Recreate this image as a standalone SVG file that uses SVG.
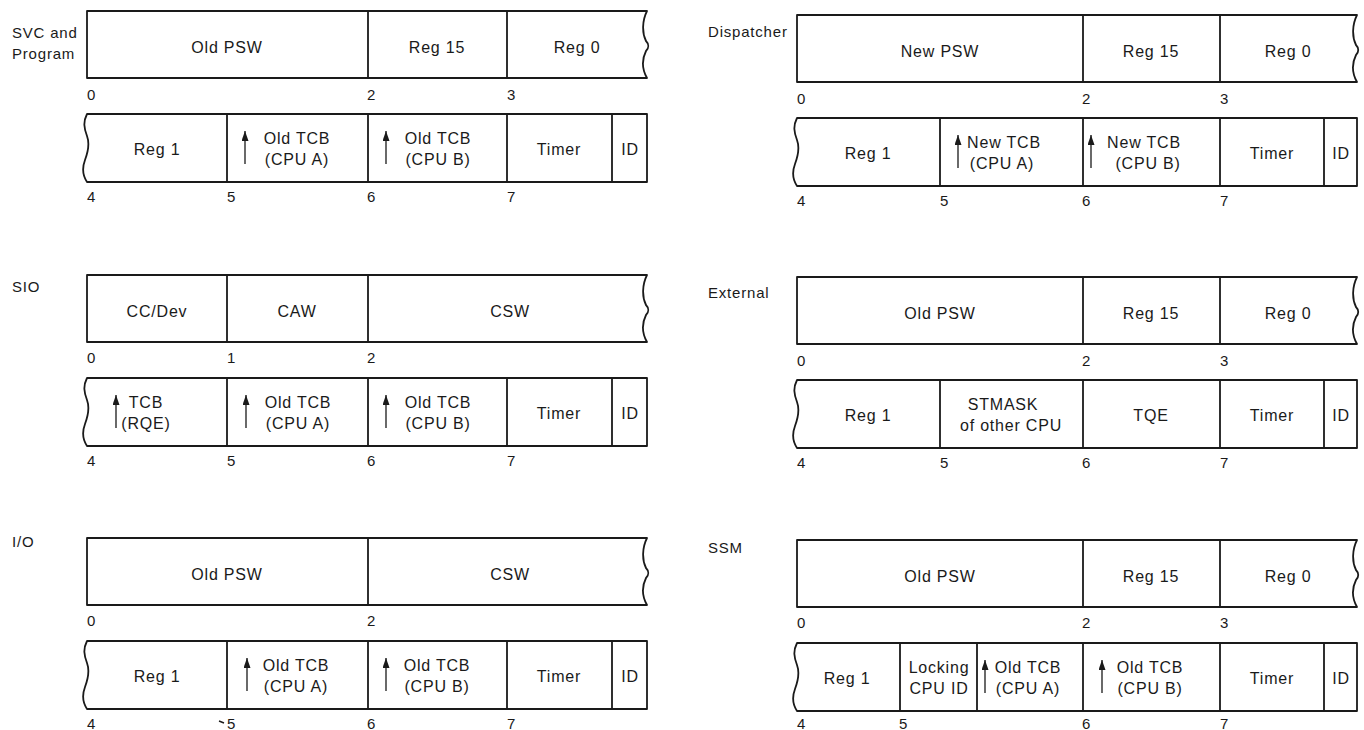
<svg xmlns="http://www.w3.org/2000/svg" width="1364" height="730" viewBox="0 0 1364 730">
<style>
.box{fill:#fff;stroke:#1a1a1a;stroke-width:1.8;stroke-linejoin:round}
.dv{fill:none;stroke:#1a1a1a;stroke-width:1.8}
.t{font-family:"Liberation Sans",Arial,sans-serif;font-size:16px;letter-spacing:0.8px;fill:#1a1a1a;text-anchor:middle}
.n{font-family:"Liberation Sans",Arial,sans-serif;font-size:15px;fill:#1a1a1a}
.lb{font-family:"Liberation Sans",Arial,sans-serif;font-size:15px;letter-spacing:0.8px;fill:#1a1a1a}
.ar{stroke:#1a1a1a;stroke-width:1.3;marker-end:url(#ah)}
</style>
<defs>
<marker id="ah" viewBox="0 0 10 10" refX="10" refY="5" markerWidth="10" markerHeight="7" markerUnits="userSpaceOnUse" orient="auto" preserveAspectRatio="none"><path d="M0,0 L10,5 L0,10 z" fill="#1a1a1a"/></marker>
</defs>
<rect width="1364" height="730" fill="#fff"/>

<g id="svc">
<text class="lb" x="12" y="38">SVC and</text><text class="lb" x="12" y="59">Program</text>
<path class="box" d="M87,11 H647 C642,21 642,33 646,41 C649,44 649,48 646,51 C642,59 642,69 647,78 H87 Z"/>
<path class="dv" d="M368,11 V78 M507,11 V78"/>
<text class="t" x="227" y="53">Old PSW</text><text class="t" x="437" y="53">Reg 15</text><text class="t" x="577" y="53">Reg 0</text>
<text class="n" x="87" y="100">0</text><text class="n" x="367" y="100">2</text><text class="n" x="507" y="100">3</text>
<path class="box" d="M87,114 C83,122 84,128 87,136 C90,144 88,152 85,160 C82,168 83,176 87,182 H647 V114 Z"/>
<path class="dv" d="M227,114 V182 M368,114 V182 M507,114 V182 M612,114 V182"/>
<text class="t" x="157" y="155">Reg 1</text>
<line class="ar" x1="245" y1="164" x2="245" y2="131"/><text class="t" x="297" y="144">Old TCB</text><text class="t" x="297" y="165">(CPU A)</text>
<line class="ar" x1="386" y1="164" x2="386" y2="131"/><text class="t" x="438" y="144">Old TCB</text><text class="t" x="438" y="165">(CPU B)</text>
<text class="t" x="559" y="155">Timer</text><text class="t" x="630" y="155">ID</text>
<text class="n" x="87" y="202">4</text><text class="n" x="227" y="202">5</text><text class="n" x="367" y="202">6</text><text class="n" x="507" y="202">7</text>
</g>

<g id="sio">
<text class="lb" x="12" y="292">SIO</text>
<path class="box" d="M87,275 H647 C642,285 642,297 646,305 C649,308 649,312 646,315 C642,323 642,333 647,342 H87 Z"/>
<path class="dv" d="M227,275 V342 M368,275 V342"/>
<text class="t" x="157" y="317">CC/Dev</text><text class="t" x="297" y="317">CAW</text><text class="t" x="510" y="317">CSW</text>
<text class="n" x="87" y="363">0</text><text class="n" x="227" y="363">1</text><text class="n" x="367" y="363">2</text>
<path class="box" d="M87,378 C83,386 84,392 87,400 C90,408 88,416 85,424 C82,432 83,440 87,446 H647 V378 Z"/>
<path class="dv" d="M227,378 V446 M368,378 V446 M507,378 V446 M612,378 V446"/>
<line class="ar" x1="116" y1="428" x2="116" y2="395"/><text class="t" x="146" y="408">TCB</text><text class="t" x="146" y="429">(RQE)</text>
<line class="ar" x1="246" y1="428" x2="246" y2="395"/><text class="t" x="298" y="408">Old TCB</text><text class="t" x="298" y="429">(CPU A)</text>
<line class="ar" x1="386" y1="428" x2="386" y2="395"/><text class="t" x="438" y="408">Old TCB</text><text class="t" x="438" y="429">(CPU B)</text>
<text class="t" x="559" y="419">Timer</text><text class="t" x="630" y="419">ID</text>
<text class="n" x="87" y="466">4</text><text class="n" x="227" y="466">5</text><text class="n" x="367" y="466">6</text><text class="n" x="507" y="466">7</text>
</g>

<g id="io">
<text class="lb" x="12" y="547">I/O</text>
<path class="box" d="M87,538 H647 C642,548 642,560 646,568 C649,571 649,575 646,578 C642,586 642,596 647,605 H87 Z"/>
<path class="dv" d="M368,538 V605"/>
<text class="t" x="227" y="580">Old PSW</text><text class="t" x="510" y="580">CSW</text>
<text class="n" x="87" y="626">0</text><text class="n" x="367" y="626">2</text>
<path class="box" d="M87,641 C83,649 84,655 87,663 C90,671 88,679 85,687 C82,695 83,703 87,709 H647 V641 Z"/>
<path class="dv" d="M227,641 V709 M368,641 V709 M507,641 V709 M612,641 V709"/>
<text class="t" x="157" y="682">Reg 1</text>
<line class="ar" x1="247" y1="691" x2="247" y2="658"/><text class="t" x="296" y="671">Old TCB</text><text class="t" x="296" y="692">(CPU A)</text>
<line class="ar" x1="386" y1="691" x2="386" y2="658"/><text class="t" x="437" y="671">Old TCB</text><text class="t" x="437" y="692">(CPU B)</text>
<text class="t" x="559" y="682">Timer</text><text class="t" x="630" y="682">ID</text>
<text class="n" x="87" y="729">4</text><path class="dv" d="M219,721 L224,723" style="stroke-width:1.4"/><text class="n" x="227" y="729">5</text><text class="n" x="367" y="729">6</text><text class="n" x="507" y="729">7</text>
</g>

<g id="dispatcher">
<text class="lb" x="708" y="37">Dispatcher</text>
<path class="box" d="M797,15 H1357 C1352,25 1352,37 1356,45 C1359,48 1359,52 1356,55 C1352,63 1352,73 1357,82 H797 Z"/>
<path class="dv" d="M1083,15 V82 M1220,15 V82"/>
<text class="t" x="940" y="57">New PSW</text><text class="t" x="1151" y="57">Reg 15</text><text class="t" x="1288" y="57">Reg 0</text>
<text class="n" x="797" y="104">0</text><text class="n" x="1082" y="104">2</text><text class="n" x="1220" y="104">3</text>
<path class="box" d="M797,118 C793,126 794,132 797,140 C800,148 798,156 795,164 C792,172 793,180 797,186 H1357 V118 Z"/>
<path class="dv" d="M940,118 V186 M1083,118 V186 M1220,118 V186 M1324,118 V186"/>
<text class="t" x="868" y="159">Reg 1</text>
<line class="ar" x1="958" y1="168" x2="958" y2="135"/><text class="t" x="1004" y="148">New TCB</text><text class="t" x="1002" y="169">(CPU A)</text>
<line class="ar" x1="1091" y1="168" x2="1091" y2="135"/><text class="t" x="1144" y="148">New TCB</text><text class="t" x="1148" y="169">(CPU B)</text>
<text class="t" x="1272" y="159">Timer</text><text class="t" x="1341" y="159">ID</text>
<text class="n" x="797" y="206">4</text><text class="n" x="940" y="206">5</text><text class="n" x="1082" y="206">6</text><text class="n" x="1220" y="206">7</text>
</g>

<g id="external">
<text class="lb" x="708" y="298">External</text>
<path class="box" d="M797,277 H1357 C1352,287 1352,299 1356,307 C1359,310 1359,314 1356,317 C1352,325 1352,335 1357,344 H797 Z"/>
<path class="dv" d="M1083,277 V344 M1220,277 V344"/>
<text class="t" x="940" y="319">Old PSW</text><text class="t" x="1151" y="319">Reg 15</text><text class="t" x="1288" y="319">Reg 0</text>
<text class="n" x="797" y="366">0</text><text class="n" x="1082" y="366">2</text><text class="n" x="1220" y="366">3</text>
<path class="box" d="M797,380 C793,388 794,394 797,402 C800,410 798,418 795,426 C792,434 793,442 797,448 H1357 V380 Z"/>
<path class="dv" d="M940,380 V448 M1083,380 V448 M1220,380 V448 M1324,380 V448"/>
<text class="t" x="868" y="421">Reg 1</text>
<text class="t" x="1003" y="410">STMASK</text><text class="t" x="1011" y="431">of other CPU</text>
<text class="t" x="1151" y="421">TQE</text>
<text class="t" x="1272" y="421">Timer</text><text class="t" x="1341" y="421">ID</text>
<text class="n" x="797" y="468">4</text><text class="n" x="940" y="468">5</text><text class="n" x="1082" y="468">6</text><text class="n" x="1220" y="468">7</text>
</g>

<g id="ssm">
<text class="lb" x="708" y="553">SSM</text>
<path class="box" d="M797,540 H1357 C1352,550 1352,562 1356,570 C1359,573 1359,577 1356,580 C1352,588 1352,598 1357,607 H797 Z"/>
<path class="dv" d="M1083,540 V607 M1220,540 V607"/>
<text class="t" x="940" y="582">Old PSW</text><text class="t" x="1151" y="582">Reg 15</text><text class="t" x="1288" y="582">Reg 0</text>
<text class="n" x="797" y="628">0</text><text class="n" x="1082" y="628">2</text><text class="n" x="1220" y="628">3</text>
<path class="box" d="M797,643 C793,651 794,657 797,665 C800,673 798,681 795,689 C792,697 793,705 797,711 H1357 V643 Z"/>
<path class="dv" d="M900,643 V711 M977,643 V711 M1083,643 V711 M1220,643 V711 M1324,643 V711"/>
<text class="t" x="847" y="684">Reg 1</text>
<text class="t" x="939" y="673">Locking</text><text class="t" x="939" y="694">CPU ID</text>
<line class="ar" x1="985" y1="693" x2="985" y2="660"/><text class="t" x="1028" y="673">Old TCB</text><text class="t" x="1028" y="694">(CPU A)</text>
<line class="ar" x1="1102" y1="693" x2="1102" y2="660"/><text class="t" x="1150" y="673">Old TCB</text><text class="t" x="1150" y="694">(CPU B)</text>
<text class="t" x="1272" y="684">Timer</text><text class="t" x="1341" y="684">ID</text>
<text class="n" x="797" y="729">4</text><text class="n" x="899" y="729">5</text><text class="n" x="1082" y="729">6</text><text class="n" x="1220" y="729">7</text>
</g>

<g id="connectors"/>
</svg>
